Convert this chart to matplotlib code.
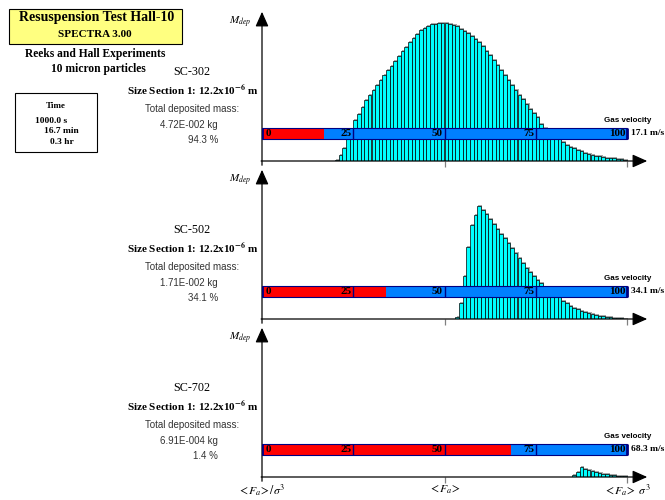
import numpy as np
import matplotlib.pyplot as plt
from matplotlib.patches import Rectangle

plt.rcParams['mathtext.fontset'] = 'stix'

SERIF = 'Liberation Serif'
SANS = 'Liberation Sans'
W, H = 665, 500

# deposited mass per adhesion-force bin (100 bins from <Fa>/s^3 to <Fa>s^3)
sections = ['SC-302', 'SC-502', 'SC-702']
first_bin = [20, 53, 85]
mass_302 = [1.3, 5.7, 13, 25, 31, 40.7, 47.3, 53.7, 61.3, 65.7,
            71.3, 76.3, 81, 85.7, 91, 95.3, 100.3, 105.3, 109.7, 114,
            118.7, 123, 127, 130.7, 133, 135.3, 136.7, 137.3, 137.7, 137.7,
            137.7, 137.3, 136.3, 134.7, 132.3, 130.3, 128, 124.7, 121.7, 118.7,
            114.7, 109.7, 105.7, 101.3, 96.3, 90.7, 86.3, 81.3, 76.3, 71.3,
            66.3, 62, 57, 52.3, 48, 43.7, 37, 33, 30, 27,
            24.5, 22, 19, 16.3, 14.3, 12.7, 11, 9.7, 8.3, 7.3,
            6.3, 5.3, 4.7, 4, 3.3, 3, 2.7, 2.3, 2, 1.3]
mass_502 = [2.3, 15.7, 43, 72.3, 94, 104, 113.3, 109, 104.7, 100,
            95, 90, 85, 80.7, 75.7, 70.7, 65.7, 60.7, 55.7, 51.3,
            47.3, 43, 39, 35.7, 32, 29, 27, 25, 23, 18,
            15.7, 13.3, 11.3, 9.7, 8.3, 7, 5.7, 4.7, 4, 3.3,
            2.7, 2, 1.7, 1.3, 1, 0.7, 0.5]
mass_702 = [1.7, 5.3, 10, 8, 7, 6, 5, 4, 3.3, 2.7, 2, 1.7, 1.3, 1, 0.6]
masses = [mass_302, mass_502, mass_702]

deposited_kg = ['4.72E-002 kg', '1.71E-002 kg', '6.91E-004 kg']
deposited_pct = ['94.3 %', '34.1 %', '1.4 %']
gas_velocity = [17.1, 34.1, 68.3]
vel_ticks = [25, 50, 75, 100]
size_label = r'Size Section 1: 12.2x10$^{\mathbf{-6}}$ m'
force_labels = [r'$<\!F_a\!>/\sigma^3$', r'$<\!F_a\!>$', r'$<\!F_a\!>\ \sigma^3$']
time_lines = ['1000.0 s', '16.7 min', '0.3 hr']


def fxy(x, y):
    return x / W, 1 - y / H


fig = plt.figure(figsize=(6.65, 5.0), dpi=100)

# header box
fig.add_artist(Rectangle(fxy(9, 44), 173 / W, 35 / H, transform=fig.transFigure,
                         fc='#ffff80', ec='black', lw=0.8))
fig.text(*fxy(97, 18), 'Resuspension Test Hall-10', family=SERIF, weight='bold',
         fontsize=10, ha='center', va='center')
fig.text(*fxy(95, 34), 'SPECTRA 3.00', family=SERIF, weight='bold',
         fontsize=8, ha='center', va='center')
fig.text(*fxy(95, 54), 'Reeks and Hall Experiments', family=SERIF, weight='bold',
         fontsize=8.3, ha='center', va='center')
fig.text(*fxy(98, 69), '10 micron particles', family=SERIF, weight='bold',
         fontsize=8.3, ha='center', va='center')

# time box
fig.add_artist(Rectangle(fxy(15, 152), 82 / W, 59 / H, transform=fig.transFigure,
                         fc='white', ec='black', lw=0.8))
fig.text(*fxy(56, 106), 'Time', family=SERIF, weight='bold', fontsize=6.5,
         ha='center', va='center')
for (tx, ty), line in zip([(35, 121), (44, 131), (50, 142)], time_lines):
    fig.text(*fxy(tx, ty), line, family=SERIF, weight='bold', fontsize=6.8,
             ha='left', va='center')

for i in range(3):
    base = 161 + 158 * i
    ax = fig.add_axes([262 / W, 1 - base / H, (652 - 262) / W, 152 / H])
    ax.set_xlim(0, 100 * (652 - 262) / 365)
    ax.set_ylim(0, 152)
    ax.axis('off')

    mass = np.array(masses[i])
    bins = np.arange(first_bin[i], first_bin[i] + len(mass))
    # grey drop shadow, then the cyan bars
    ax.bar(bins + 0.3, mass + 1, width=1, align='edge', color='#a8a8a8',
           lw=0, zorder=1)
    ax.bar(bins, mass, width=1, align='edge', color='#00ffff',
           edgecolor='black', lw=0.5, zorder=2)

    # axes with arrow heads
    ax.annotate('', xy=(106.3, 0), xytext=(-1, 0), annotation_clip=False,
                arrowprops=dict(arrowstyle='-|>,head_length=0.9,head_width=0.4',
                                color='black', lw=0.9, mutation_scale=10))
    ax.annotate('', xy=(0, 152), xytext=(0, -7), annotation_clip=False,
                arrowprops=dict(arrowstyle='-|>,head_length=0.9,head_width=0.4',
                                color='black', lw=0.9, mutation_scale=10))
    ax.vlines([50, 100], -6, 0, color='#808080', lw=0.9, clip_on=False)
    ax.text(-3.0, 139, r'$M_{dep}$', fontsize=8, ha='right', va='center')

    # gas velocity bar
    v = gas_velocity[i]
    ax.add_patch(Rectangle((0, 22), 100, 11.5, fc='#0080ff', ec='none', zorder=5))
    ax.add_patch(Rectangle((0, 22), v, 11.5, fc='#ff0000', ec='none', zorder=5))
    ax.add_patch(Rectangle((0, 22), 100, 11.5, fill=False, ec='#000080',
                           lw=0.8, zorder=6))
    ax.vlines(vel_ticks[:-1], 22, 33.5, color='#000080', lw=1, zorder=6)
    ax.vlines([0, 100], 22, 33.5, color='#000080', lw=2, zorder=6)
    ax.text(0.9, 27.6, '0', family=SERIF, weight='bold', fontsize=8,
            ha='left', va='center', zorder=7)
    for t in vel_ticks:
        ax.text(t - 0.5, 27.6, str(t), family=SERIF, weight='bold',
                fontsize=8, ha='right', va='center', zorder=7)

    fig.text(*fxy(628, base - 40), 'Gas velocity', family=SANS, weight='bold',
             fontsize=5.8, ha='center', va='center')
    fig.text(*fxy(631, base - 28), f'{v} m/s', family=SERIF, weight='bold',
             fontsize=6.8, ha='left', va='center')

    # section annotations
    fig.text(*fxy(192, base - 89), sections[i], family=SERIF, fontsize=8.7,
             ha='center', va='center')
    fig.text(*fxy(193, base - 70), size_label, family=SERIF, weight='bold',
             fontsize=8, ha='center', va='center')
    fig.text(*fxy(192, base - 52), 'Total deposited mass:', family=SANS,
             fontsize=7, color='#333333', ha='center', va='center')
    fig.text(*fxy(218, base - 36), deposited_kg[i], family=SANS,
             fontsize=7, color='#333333', ha='right', va='center')
    fig.text(*fxy(218, base - 21), deposited_pct[i], family=SANS,
             fontsize=7, color='#333333', ha='right', va='center')

# force axis labels under the last panel
for xv, lab in zip([0, 50, 100], force_labels):
    ax.text(xv, -13, lab, fontsize=8.5, ha='center', va='center')

fig.savefig('out.png', dpi=100)
